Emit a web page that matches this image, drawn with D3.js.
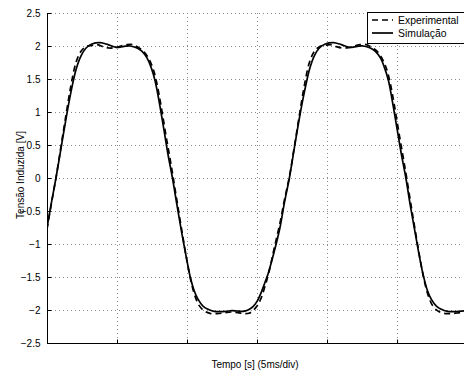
<!DOCTYPE html>
<html>
<head>
<meta charset="utf-8">
<script src="https://cdn.jsdelivr.net/npm/d3@7"></script>
<style>
  html, body { margin: 0; padding: 0; background: #fff; }
  svg { display: block; }
  text { font-family: "Liberation Sans", Arial, Helvetica, sans-serif; fill: #000; }
</style>
</head>
<body>
<svg id="chart" width="464" height="372"></svg>
<script>
// ---- data (time in ms, voltage in V) ----
const simTime = [0, 0.32, 0.64, 1.00, 1.36, 1.71, 2.07, 2.43, 2.79, 3.21, 3.79, 4.36, 4.93, 5.50, 5.93,
  6.43, 6.79, 7.14, 7.43, 7.71, 8.00, 8.36, 8.64, 8.96, 9.29, 9.64, 9.93, 10.21, 10.50, 10.79, 11.14,
  11.50, 11.93, 12.36, 12.79, 13.21, 13.57, 14.00, 14.36, 14.71, 15.00, 15.29, 15.57, 15.79, 16.21,
  16.64, 16.96, 17.31, 17.66, 18.02, 18.38, 18.74, 19.09, 19.45, 19.88, 20.45, 21.02, 21.59, 22.16,
  22.59, 23.09, 23.45, 23.81, 24.09, 24.38, 24.66, 25.02, 25.31, 25.63, 25.95, 26.31, 26.59, 26.88,
  27.16, 27.45, 27.81, 28.16, 28.59, 29.02, 29.45, 29.88];
const simVolt = [-0.75, -0.37, 0, 0.45, 0.90, 1.30, 1.64, 1.85, 1.97, 2.03, 2.05, 2.02, 1.98, 1.995, 2.0,
  1.97, 1.92, 1.82, 1.68, 1.48, 1.17, 0.72, 0.36, 0, -0.42, -0.85, -1.18, -1.48, -1.70, -1.84, -1.94,
  -1.99, -2.02, -2.025, -2.02, -2.01, -2.015, -2.02, -2.0, -1.95, -1.87, -1.74, -1.58, -1.45, -1.13,
  -0.75, -0.37, 0, 0.45, 0.90, 1.30, 1.64, 1.85, 1.97, 2.03, 2.05, 2.02, 1.98, 1.995,
  2.0, 1.97, 1.92, 1.82, 1.68, 1.48, 1.17, 0.72, 0.36, 0, -0.42, -0.85, -1.18, -1.48,
  -1.70, -1.84, -1.94, -1.99, -2.02, -2.025, -2.02, -2.01];

const expTime = [0, 0.32, 0.64, 1.00, 1.36, 1.71, 2.07, 2.43, 2.79, 3.21, 3.57, 4.00, 4.43, 4.86, 5.29,
  5.71, 6.14, 6.50, 6.86, 7.21, 7.57, 7.86, 8.14, 8.50, 8.79, 9.04, 9.36, 9.71, 10.00, 10.29, 10.57,
  10.86, 11.21, 11.64, 12.14, 12.64, 13.14, 13.64, 14.07, 14.43, 14.71, 15.00, 15.29, 15.57, 15.86,
  16.21, 16.64, 16.96, 17.31, 17.67, 18.03, 18.38, 18.74, 19.10, 19.46, 19.88, 20.24, 20.67, 21.10,
  21.53, 21.96, 22.38, 22.81, 23.17, 23.53, 23.88, 24.24, 24.53, 24.81, 25.17, 25.46, 25.71, 26.03,
  26.38, 26.67, 26.96, 27.24, 27.53, 27.88, 28.31, 28.81, 29.31, 29.81];
const expVolt = [-0.78, -0.38, 0, 0.48, 0.96, 1.40, 1.75, 1.92, 1.99, 2.01, 2.02, 1.99, 1.97, 1.975, 2.0,
  2.02, 2.02, 1.98, 1.93, 1.83, 1.66, 1.42, 1.10, 0.64, 0.29, -0.03, -0.45, -0.90, -1.26, -1.57, -1.79,
  -1.93, -2.01, -2.05, -2.055, -2.045, -2.03, -2.04, -2.055, -2.05, -2.01, -1.94, -1.82, -1.64, -1.42,
  -1.08, -0.68, -0.33, 0.02, 0.48, 0.96, 1.40, 1.75, 1.92, 1.99, 2.01, 2.02, 1.99, 1.97,
  1.975, 2.0, 2.02, 2.02, 1.98, 1.93, 1.83, 1.66, 1.42, 1.10, 0.64, 0.29, -0.03, -0.45,
  -0.90, -1.26, -1.57, -1.79, -1.93, -2.01, -2.05, -2.055, -2.045, -2.03];

const yTicks = [-2.5, -2, -1.5, -1, -0.5, 0, 0.5, 1, 1.5, 2, 2.5];
const xTicks = [0, 5, 10, 15, 20, 25];
const seriesNames = ["Experimental", "Simulação"];
const xLabel = "Tempo [s] (5ms/div)";
const yLabel = "Tensão Induzida [V]";

// ---- layout ----
const svg = d3.select("#chart");
const L = 47, R = 463, T = 13, B = 343;
const x = d3.scaleLinear().domain([0, 29.71]).range([L, R]);
const y = d3.scaleLinear().domain([-2.5, 2.5]).range([B, T]);

// grid
const grid = svg.append("g").attr("stroke", "#8a8a8a").attr("stroke-width", 1)
  .attr("stroke-dasharray", "1,3").attr("shape-rendering", "crispEdges");
grid.selectAll("line.h").data(yTicks.filter(d => d > -2.5)).enter().append("line")
  .attr("x1", L).attr("x2", R).attr("y1", d => Math.round(y(d)) + 0.5).attr("y2", d => Math.round(y(d)) + 0.5);
grid.selectAll("line.v").data(xTicks.filter(d => d > 0)).enter().append("line")
  .attr("y1", T).attr("y2", B).attr("x1", d => Math.round(x(d)) + 0.5).attr("x2", d => Math.round(x(d)) + 0.5);

// axes
const yAxis = d3.axisLeft(y).tickValues(yTicks).tickSize(-4).tickPadding(7)
  .tickFormat(d => d3.format("")(d).replace("-", "\u2212"));
const gy = svg.append("g").attr("transform", `translate(${L + 0.5},0)`).call(yAxis);
gy.select(".domain").remove();
gy.selectAll(".tick line").attr("stroke", "#000");
gy.selectAll("text").attr("font-size", 10).attr("font-family", "Liberation Sans, Arial, sans-serif");

const xAxis = d3.axisBottom(x).tickValues(xTicks.filter(d => d > 0)).tickSize(-4).tickFormat("");
const gx = svg.append("g").attr("transform", `translate(0,${B + 0.5})`).call(xAxis);
gx.select(".domain").remove();
gx.selectAll(".tick line").attr("stroke", "#000");

svg.append("line").attr("x1", L + 0.5).attr("x2", L + 0.5).attr("y1", T).attr("y2", B + 1)
  .attr("stroke", "#000");
svg.append("line").attr("x1", L).attr("x2", R + 1).attr("y1", B + 0.5).attr("y2", B + 0.5)
  .attr("stroke", "#000");
svg.append("line").attr("x1", L).attr("x2", L + 4).attr("y1", T + 0.5).attr("y2", T + 0.5)
  .attr("stroke", "#000");

// curves
const line = d3.line().x(d => x(d[0])).y(d => y(d[1])).curve(d3.curveCatmullRom.alpha(0.5));
const expData = expTime.map((t, i) => [t, expVolt[i]]);
const simData = simTime.map((t, i) => [t, simVolt[i]]);

svg.append("defs").append("clipPath").attr("id", "clip").append("rect")
  .attr("x", L).attr("y", T - 5).attr("width", R - L + 2).attr("height", B - T + 10);

svg.append("path").attr("d", line(expData)).attr("fill", "none").attr("stroke", "#000")
  .attr("stroke-width", 1.7).attr("stroke-dasharray", "6,4").attr("clip-path", "url(#clip)");
svg.append("path").attr("d", line(simData)).attr("fill", "none").attr("stroke", "#000")
  .attr("stroke-width", 1.7).attr("clip-path", "url(#clip)");

// labels
svg.append("text").attr("x", (L + R) / 2).attr("y", 368).attr("text-anchor", "middle")
  .attr("font-size", 10).text(xLabel);
svg.append("text").attr("transform", `translate(24,${(T + B) / 2 - 3}) rotate(-90)`)
  .attr("text-anchor", "middle").attr("font-size", 10).text(yLabel);

// legend
const lg = svg.append("g");
lg.append("rect").attr("x", 367.5).attr("y", 12.5).attr("width", 98).attr("height", 31)
  .attr("fill", "#fff").attr("stroke", "#000").attr("stroke-width", 1);
seriesNames.forEach((name, i) => {
  const yy = 20 + i * 13;
  lg.append("line").attr("x1", 372).attr("x2", 393).attr("y1", yy).attr("y2", yy)
    .attr("stroke", "#000").attr("stroke-width", 1.7)
    .attr("stroke-dasharray", i === 0 ? "6,4" : null);
  lg.append("text").attr("x", 398).attr("y", yy + 3.5).attr("font-size", 10.4).text(name);
});
</script>
</body>
</html>
